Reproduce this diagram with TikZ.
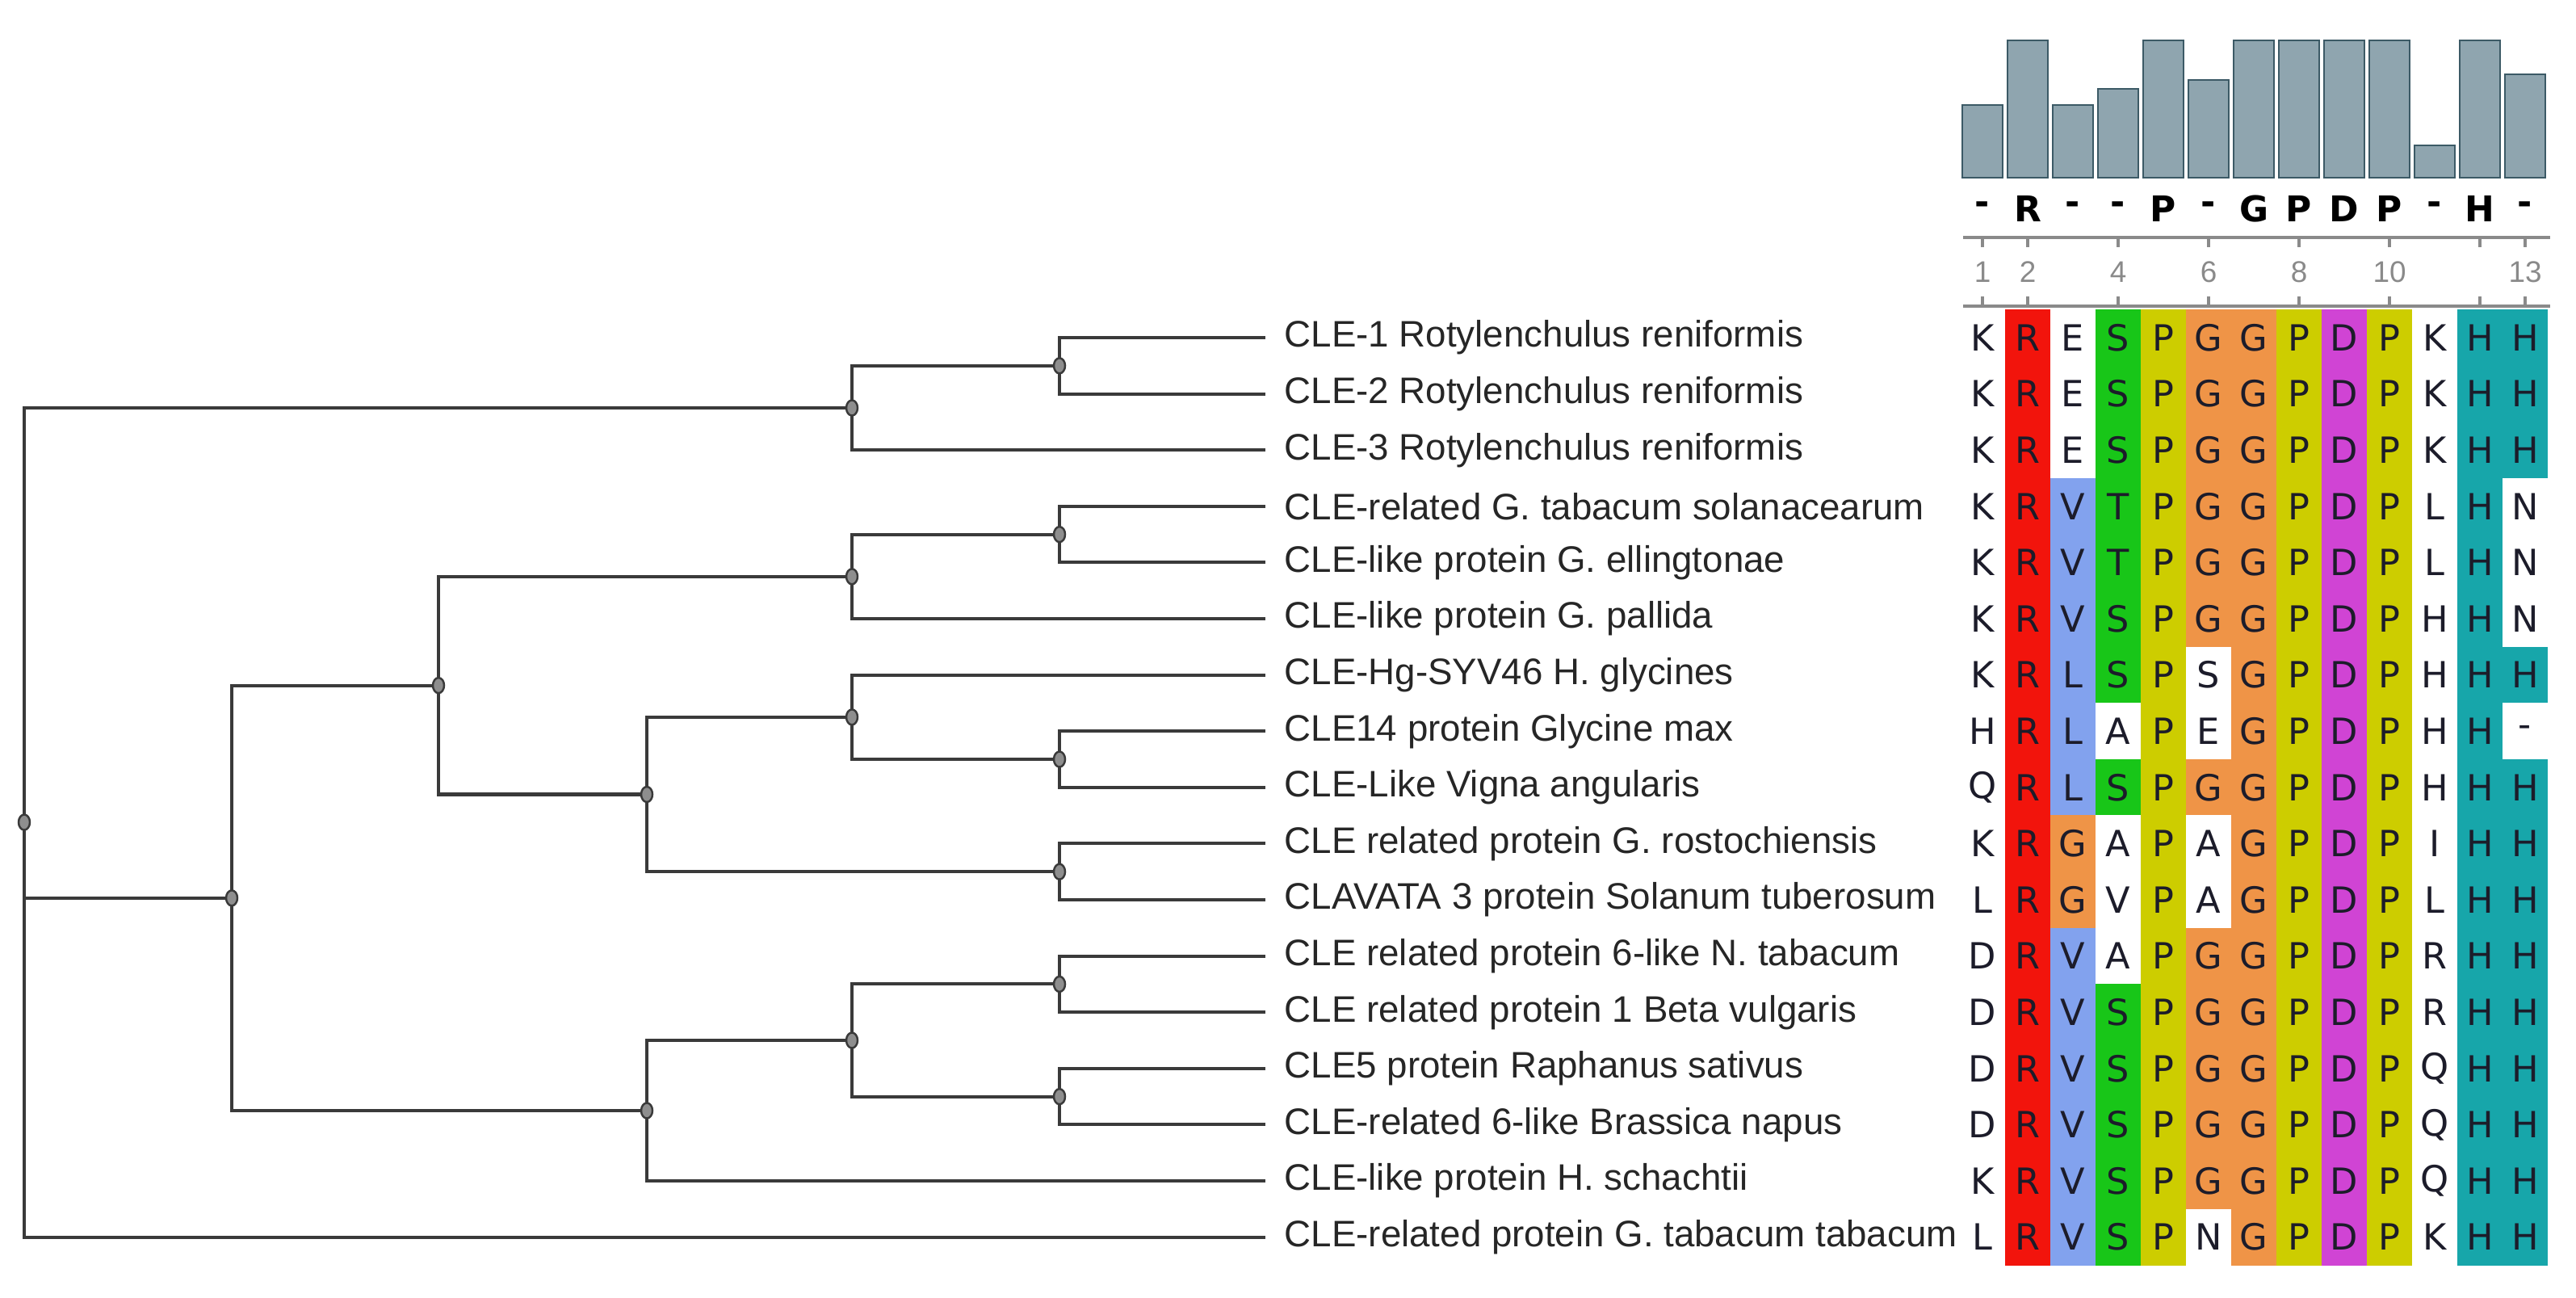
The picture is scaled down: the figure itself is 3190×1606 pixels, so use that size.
\documentclass[tikz,border=0pt]{standalone}
\usepackage{fontspec}
\setmainfont{Liberation Sans}
\newfontfamily\resfont{DejaVu Sans}
\usepackage{xcolor}
\usetikzlibrary{shapes.geometric}

\definecolor{treeline}{HTML}{3A3A3A}
\definecolor{dotfill}{HTML}{8E8E8E}
\definecolor{reschar}{HTML}{1C1C2A}
\definecolor{colw}{HTML}{FFFFFF}
\definecolor{colr}{HTML}{F2140C}
\definecolor{colb}{HTML}{82A2EE}
\definecolor{colg}{HTML}{18C618}
\definecolor{coly}{HTML}{CDCD00}
\definecolor{colo}{HTML}{EF9447}
\definecolor{colm}{HTML}{D044D4}
\definecolor{colt}{HTML}{17A6AA}
\definecolor{barfill}{HTML}{8FA5AF}
\definecolor{baredge}{HTML}{3C5A66}
\definecolor{axisgray}{HTML}{8A8A8A}

\begin{document}
\begin{tikzpicture}[x=0.1mm,y=-0.1mm,
  branch/.style={draw=treeline,line width=1.15pt},
  dot/.style={ellipse,fill=dotfill,draw=treeline,line width=0.7pt,minimum width=1.4mm,minimum height=1.9mm,inner sep=0pt},
  leaf/.style={anchor=west,inner xsep=2.3mm,inner ysep=0pt,text=black!85,font=\fontsize{13}{15}\selectfont},
  res/.style={minimum width=5.65mm,minimum height=7mm,inner sep=0pt,text=reschar,font=\resfont\fontsize{12.7}{13}\selectfont},
  cons/.style={inner sep=0pt,font=\resfont\bfseries\fontsize{12.5}{13}\selectfont},
  num/.style={inner sep=0pt,text=axisgray,font=\fontsize{10.5}{11}\selectfont},
  axis/.style={draw=axisgray,line width=0.9pt},
  bar/.style={fill=barfill,draw=baredge,line width=0.8pt}]
\useasboundingbox (0,0) rectangle (3190,1606);

% leaves
\foreach \name [count=\k] in {CLE-1 Rotylenchulus reniformis,CLE-2 Rotylenchulus reniformis,
  CLE-3 Rotylenchulus reniformis,CLE-related G. tabacum solanacearum,CLE-like protein G. ellingtonae,
  CLE-like protein G. pallida,CLE-Hg-SYV46 H. glycines,CLE14 protein Glycine max,
  CLE-Like Vigna angularis,CLE related protein G. rostochiensis,CLAVATA 3 protein Solanum tuberosum,
  CLE related protein 6-like N. tabacum,CLE related protein 1 Beta vulgaris,CLE5 protein Raphanus sativus,
  CLE-related 6-like Brassica napus,CLE-like protein H. schachtii,CLE-related protein G. tabacum tabacum}
  \node[leaf] (l\k) at (1567,{418+69.6*(\k-1)}) {\name};

% inner nodes
\coordinate (n1) at (1312,452.8);
\coordinate (n2) at (1055,505);
\coordinate (n3) at (1312,661.6);
\coordinate (n4) at (1055,713.8);
\coordinate (n5) at (1312,940);
\coordinate (n6) at (1055,887.8);
\coordinate (n7) at (1312,1079.2);
\coordinate (n8) at (801,983.5);
\coordinate (n9) at (543,848.6);
\coordinate (n10) at (1312,1218.4);
\coordinate (n11) at (1312,1357.6);
\coordinate (n12) at (1055,1288);
\coordinate (n13) at (801,1375);
\coordinate (n14) at (287,1111.8);
\coordinate (root) at (30,1018);

\path[branch]
  (n1) edge[to path={|- (\tikztotarget)}] (l1.west)
  (n1) edge[to path={|- (\tikztotarget)}] (l2.west)
  (n2) edge[to path={|- (\tikztotarget)}] (n1)
  (n2) edge[to path={|- (\tikztotarget)}] (l3.west)
  (n3) edge[to path={|- (\tikztotarget)}] (l4.west)
  (n3) edge[to path={|- (\tikztotarget)}] (l5.west)
  (n4) edge[to path={|- (\tikztotarget)}] (n3)
  (n4) edge[to path={|- (\tikztotarget)}] (l6.west)
  (n5) edge[to path={|- (\tikztotarget)}] (l8.west)
  (n5) edge[to path={|- (\tikztotarget)}] (l9.west)
  (n6) edge[to path={|- (\tikztotarget)}] (l7.west)
  (n6) edge[to path={|- (\tikztotarget)}] (n5)
  (n7) edge[to path={|- (\tikztotarget)}] (l10.west)
  (n7) edge[to path={|- (\tikztotarget)}] (l11.west)
  (n8) edge[to path={|- (\tikztotarget)}] (n6)
  (n8) edge[to path={|- (\tikztotarget)}] (n7)
  (n9) edge[to path={|- (\tikztotarget)}] (n4)
  (n9) edge[to path={|- (\tikztotarget)}] (n8)
  (n10) edge[to path={|- (\tikztotarget)}] (l12.west)
  (n10) edge[to path={|- (\tikztotarget)}] (l13.west)
  (n11) edge[to path={|- (\tikztotarget)}] (l14.west)
  (n11) edge[to path={|- (\tikztotarget)}] (l15.west)
  (n12) edge[to path={|- (\tikztotarget)}] (n10)
  (n12) edge[to path={|- (\tikztotarget)}] (n11)
  (n13) edge[to path={|- (\tikztotarget)}] (n12)
  (n13) edge[to path={|- (\tikztotarget)}] (l16.west)
  (n14) edge[to path={|- (\tikztotarget)}] (n9)
  (n14) edge[to path={|- (\tikztotarget)}] (n13)
  (root) edge[to path={|- (\tikztotarget)}] (n2)
  (root) edge[to path={|- (\tikztotarget)}] (n14)
  (root) edge[to path={|- (\tikztotarget)}] (l17.west);

\foreach \n in {n1,n2,n3,n4,n5,n6,n7,n8,n9,n10,n11,n12,n13,n14,root}
  \node[dot] (m\n) at (\n) {};

% conservation bars
\foreach \h [count=\c] in {90,170,90,110,170,121,170,170,170,170,40,170,128}
  \draw[bar] ({2399+56*\c-25},220) rectangle ({2399+56*\c+25},{220-\h});

\foreach \s [count=\c] in {-,R,-,-,P,-,G,P,D,P,-,H,-}
  \node[cons] (c\c) at ({2399+56*\c},258) {\s};

% ruler
\draw[axis] (2431,294) -- (3158,294);
\draw[axis] (2431,379) -- (3158,379);
\foreach \c in {1,2,4,6,8,10,12,13} {
  \draw[axis] ({2399+56*\c},294) -- ++(0,12);
  \draw[axis] ({2399+56*\c},379) -- ++(0,-12);
}
\foreach \c in {1,2,4,6,8,10,13}
  \node[num] (k\c) at ({2399+56*\c},337) {\c};

% alignment
\foreach \row/\cells in {
  1/{K/w,R/r,E/w,S/g,P/y,G/o,G/o,P/y,D/m,P/y,K/w,H/t,H/t},
  2/{K/w,R/r,E/w,S/g,P/y,G/o,G/o,P/y,D/m,P/y,K/w,H/t,H/t},
  3/{K/w,R/r,E/w,S/g,P/y,G/o,G/o,P/y,D/m,P/y,K/w,H/t,H/t},
  4/{K/w,R/r,V/b,T/g,P/y,G/o,G/o,P/y,D/m,P/y,L/w,H/t,N/w},
  5/{K/w,R/r,V/b,T/g,P/y,G/o,G/o,P/y,D/m,P/y,L/w,H/t,N/w},
  6/{K/w,R/r,V/b,S/g,P/y,G/o,G/o,P/y,D/m,P/y,H/w,H/t,N/w},
  7/{K/w,R/r,L/b,S/g,P/y,S/w,G/o,P/y,D/m,P/y,H/w,H/t,H/t},
  8/{H/w,R/r,L/b,A/w,P/y,E/w,G/o,P/y,D/m,P/y,H/w,H/t,-/w},
  9/{Q/w,R/r,L/b,S/g,P/y,G/o,G/o,P/y,D/m,P/y,H/w,H/t,H/t},
  10/{K/w,R/r,G/o,A/w,P/y,A/w,G/o,P/y,D/m,P/y,I/w,H/t,H/t},
  11/{L/w,R/r,G/o,V/w,P/y,A/w,G/o,P/y,D/m,P/y,L/w,H/t,H/t},
  12/{D/w,R/r,V/b,A/w,P/y,G/o,G/o,P/y,D/m,P/y,R/w,H/t,H/t},
  13/{D/w,R/r,V/b,S/g,P/y,G/o,G/o,P/y,D/m,P/y,R/w,H/t,H/t},
  14/{D/w,R/r,V/b,S/g,P/y,G/o,G/o,P/y,D/m,P/y,Q/w,H/t,H/t},
  15/{D/w,R/r,V/b,S/g,P/y,G/o,G/o,P/y,D/m,P/y,Q/w,H/t,H/t},
  16/{K/w,R/r,V/b,S/g,P/y,G/o,G/o,P/y,D/m,P/y,Q/w,H/t,H/t},
  17/{L/w,R/r,V/b,S/g,P/y,N/w,G/o,P/y,D/m,P/y,K/w,H/t,H/t}}
  \foreach \aa/\cc [count=\col] in \cells
    \node[res,fill=col\cc] (a\row-\col) at ({2399+56*\col},{418+69.6*(\row-1)}) {\aa};
\end{tikzpicture}
\end{document}
